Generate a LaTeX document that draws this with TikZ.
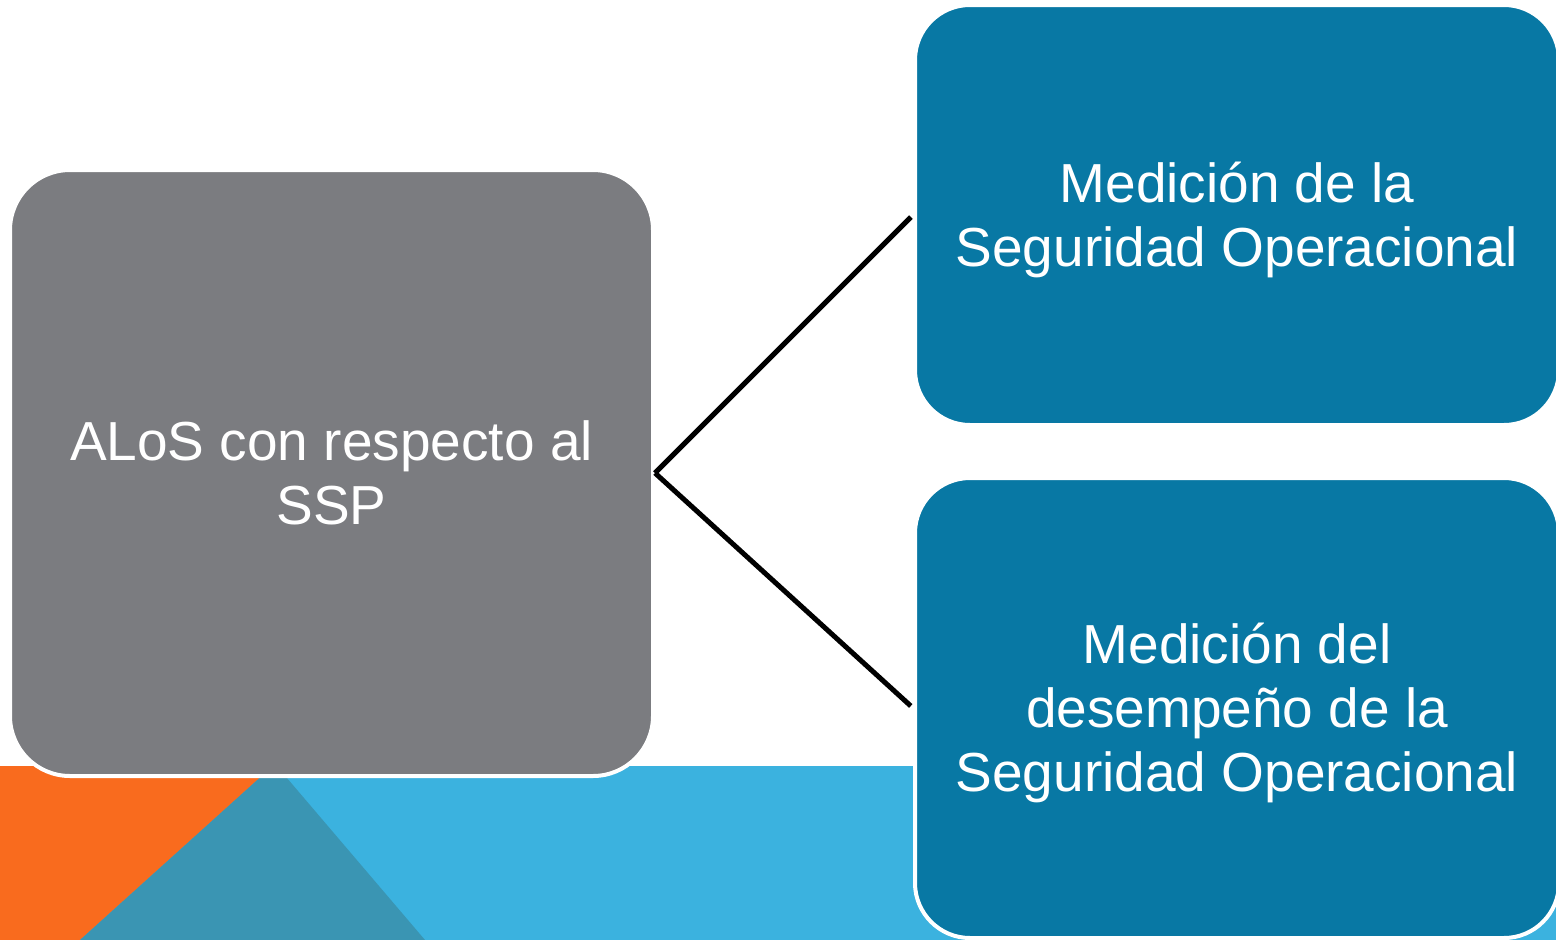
\documentclass[tikz,border=0pt]{standalone}
\usepackage{fontspec}
\setmainfont{Liberation Sans}
\definecolor{bandblue}{HTML}{3BB2DF}
\definecolor{bandteal}{HTML}{3A95B3}
\definecolor{bandorange}{HTML}{F96B1E}
\definecolor{boxgray}{HTML}{7B7C80}
\definecolor{boxblue}{HTML}{0878A4}
\tikzset{
  graybox/.style={rectangle, rounded corners=60pt, fill=boxgray, draw=white, line width=4pt,
    text=white, align=center, font=\fontsize{55}{64}\selectfont, inner sep=0pt},
  bluebox/.style={rectangle, rounded corners=55pt, fill=boxblue, draw=white, line width=4pt,
    text=white, align=center, font=\fontsize{55}{64}\selectfont, inner sep=0pt},
  conn/.style={draw=black, line width=5pt, shorten >=3pt}
}
\begin{document}
\begin{tikzpicture}[x=1pt,y=-1pt]
\useasboundingbox (0,0) rectangle (1556,940);
\clip (0,0) rectangle (1556,940);
% background band
\fill[bandblue] (0,766) rectangle (1556,940);
\fill[bandorange] (0,766) -- (273,766) -- (80,940) -- (0,940) -- cycle;
\fill[bandteal] (275,764) -- (80,940) -- (425,940) -- cycle;
% boxes
\node[graybox, minimum width=643pt, minimum height=606pt] (alos) at (331.5,473) {ALoS con respecto al\\SSP};
\node[bluebox, minimum width=644pt, minimum height=420pt] (m1) at (1237,215) {\rule{0pt}{50pt}Medición de la\\Seguridad Operacional};
\node[bluebox, minimum width=644pt, minimum height=460pt] (m2) at (1237,708) {\rule{0pt}{50pt}Medición del\\desempeño de la\\Seguridad Operacional};
% connectors
\draw[conn] (alos.east) -- (m1.west);
\draw[conn] (alos.east) -- (m2.west);
\end{tikzpicture}
\end{document}
